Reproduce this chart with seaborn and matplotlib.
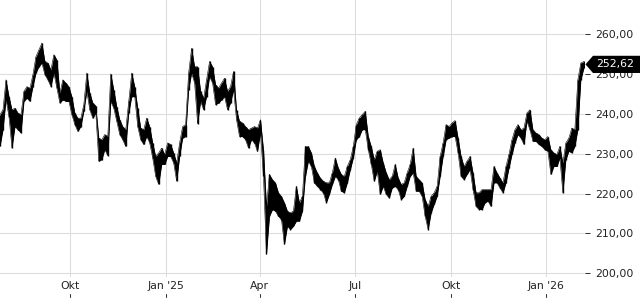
import numpy as np
import pandas as pd
import matplotlib
matplotlib.use("Agg")
import matplotlib.pyplot as plt
import matplotlib.transforms as mtransforms
from matplotlib.patches import Polygon
import seaborn as sns

sns.set_theme(style="white")
plt.rcParams["font.family"] = ["DejaVu Sans"]

# ---- data ----
highs = [
    239.8, 241.0, 248.5, 244.3, 241.0, 241.4, 240.2, 239.8, 245.6, 246.8, 246.4, 249.8, 254.3, 256.0, 257.7, 253.1,
    252.7, 251.0, 254.8, 253.5, 245.2, 248.5, 247.7, 246.8, 244.3, 240.2, 238.9, 238.9, 242.3, 250.2, 245.2, 242.7, 242.0,
    233.9, 233.5, 234.8, 234.3, 250.0, 246.0, 241.8, 238.5, 236.8, 236.0, 243.1, 250.2, 246.8, 241.4, 236.4, 236.0,
    238.9, 236.8, 232.7, 229.3, 230.2, 231.4, 229.8, 232.7, 232.3, 230.2, 227.7, 232.7, 236.8, 237.3, 250.2, 256.4, 251.8,
    251.8, 245.6, 243.9, 248.5, 253.1, 251.8, 247.3, 246.4, 247.7, 248.9, 245.6, 246.8, 250.6, 241.0, 238.1, 237.7,
    236.8, 236.0, 236.4, 236.8, 236.4, 238.5, 231.0, 216.8, 224.8, 223.5, 222.7, 220.2, 219.3, 217.7, 215.6, 215.2, 215.6,
    221.8, 217.7, 219.3, 231.8, 231.8, 230.2, 226.8, 225.2, 223.9, 223.1, 222.7, 222.7, 225.2, 228.9, 226.4, 224.8,
    224.3, 226.8, 228.5, 231.8, 237.3, 238.9, 239.8, 240.6, 234.3, 231.8, 228.5, 230.6, 231.0, 227.7, 225.2, 223.5,
    224.3, 227.3, 223.9, 222.3, 222.7, 225.2, 227.3, 231.4, 224.3, 223.5, 222.7, 218.5, 216.8, 219.3, 220.2, 221.8,
    229.3, 232.7, 237.3, 236.8, 237.7, 238.3, 233.9, 229.3, 226.8, 228.1, 229.3, 225.2, 220.2, 220.2, 221.0, 221.0, 221.0,
    221.0, 226.8, 225.2, 223.9, 222.7, 226.8, 229.8, 233.5, 236.0, 237.3, 236.0, 236.4, 240.2, 241.0, 236.0, 235.2,
    234.8, 233.9, 233.5, 234.3, 231.0, 230.2, 229.8, 231.8, 227.7, 232.7, 233.9, 236.4, 236.0, 248.5, 252.7, 253.1,
]
lows = [
    231.8, 236.0, 243.5, 239.3, 231.4, 236.8, 236.0, 235.2, 243.1, 243.9, 243.1, 246.8, 250.2, 251.8, 252.7, 249.8,
    248.5, 246.8, 250.2, 246.4, 242.7, 243.5, 243.1, 243.1, 239.8, 237.3, 235.6, 236.8, 240.6, 245.6, 241.0, 238.9, 240.2,
    228.1, 228.5, 231.0, 229.5, 243.1, 241.4, 238.1, 234.8, 233.5, 231.8, 240.2, 244.3, 244.3, 236.8, 233.5, 232.3,
    234.3, 232.7, 228.9, 224.3, 222.3, 227.3, 227.3, 229.3, 229.3, 227.7, 223.1, 229.3, 233.9, 234.3, 246.0, 250.2, 247.7,
    237.5, 243.1, 241.0, 244.3, 249.3, 247.7, 242.3, 242.7, 243.5, 244.3, 241.0, 242.7, 246.0, 238.5, 234.3, 234.3,
    233.5, 231.4, 233.5, 232.7, 230.6, 235.2, 224.3, 204.8, 214.3, 216.0, 215.6, 214.3, 213.5, 207.3, 211.8, 211.0, 211.8,
    213.1, 213.1, 215.6, 224.3, 228.1, 226.8, 222.7, 221.8, 221.0, 220.2, 217.7, 219.8, 222.3, 224.3, 223.5, 220.6,
    220.2, 222.7, 226.0, 228.9, 233.5, 234.3, 236.0, 236.0, 231.0, 227.3, 223.1, 225.6, 219.8, 221.8, 219.8, 218.9,
    221.4, 221.8, 221.0, 218.5, 219.3, 221.8, 224.3, 225.2, 220.6, 220.6, 219.3, 214.3, 211.0, 215.2, 217.3, 219.3,
    224.3, 229.3, 233.5, 233.9, 234.3, 234.3, 230.2, 224.3, 223.5, 224.8, 226.0, 221.0, 216.8, 216.0, 216.0, 217.7, 218.1,
    216.8, 222.7, 222.7, 221.4, 220.2, 222.7, 226.4, 229.8, 232.7, 234.8, 233.9, 232.3, 238.1, 236.0, 233.1, 233.1,
    232.3, 231.8, 231.0, 230.6, 224.8, 226.8, 226.8, 228.9, 220.2, 228.5, 230.6, 230.2, 231.8, 236.0, 248.5, 251.4,
]
start_date = "2024-07-25 12:00"
end_date = "2026-02-06 00:00"
last_close = 252.62
tick_dates = ["2024-10-01", "2025-01-01", "2025-04-01", "2025-07-01", "2025-10-01", "2026-01-01"]
tick_labels = ["Okt", "Jan '25", "Apr", "Jul", "Okt", "Jan '26"]
y_ticks = [200, 210, 220, 230, 240, 250, 260]

dates = pd.date_range(start_date, end_date, periods=len(highs))
df = pd.DataFrame({"date": dates, "high": highs, "low": lows})

W, H = 640, 300
fig = plt.figure(figsize=(W / 100, H / 100), dpi=100)
ax = fig.add_axes([0, 23 / H, 585 / W, 277 / H])

grid_c = "#dcdcdc"
ax.set_axisbelow(True)
ax.grid(True, color=grid_c, lw=0.75)

# price range band (low..high) with per-sample bars and thin outlines
ax.fill_between(df["date"], df["low"], df["high"], color="black", lw=0)
ax.vlines(df["date"], df["low"], df["high"], color="black", lw=1.0)
sns.lineplot(data=df, x="date", y="high", color="black", lw=0.4, ax=ax)
sns.lineplot(data=df, x="date", y="low", color="black", lw=0.4, ax=ax)

ax.set_xlim(pd.Timestamp("2024-07-25 12:00"), pd.Timestamp("2026-02-07 03:00"))
ax.set_ylim(199.1, 268.5)
for s in ax.spines.values():
    s.set_visible(False)
ax.set_xlabel("")
ax.set_ylabel("")

ax.yaxis.tick_right()
ax.set_yticks(y_ticks)
ax.set_yticklabels([f"{v:.2f}".replace(".", ",") for v in y_ticks])
ax.tick_params(axis="y", right=True, left=False, length=3.3, width=0.75, color="#333333",
               pad=4.3, labelsize=7.8, labelcolor="#222222")

tds = pd.to_datetime(tick_dates)
ax.set_xticks(tds)
ax.set_xticklabels(tick_labels)
ax.tick_params(axis="x", bottom=True, length=0, pad=2.9, labelsize=7.8, labelcolor="#222222")

# small tick marks under the x labels
btrans = mtransforms.blended_transform_factory(ax.transData, ax.transAxes)
for d in tds:
    ax.plot([d, d], [-0.061, -0.074], transform=btrans, clip_on=False, color="#333333", lw=0.75)

# last price tag
fig.canvas.draw()
yc = ax.transData.transform((0, last_close))[1] - 1.0
x_tip = 585.5
poly = Polygon([(x_tip, yc), (x_tip + 7.5, yc + 8.6), (W, yc + 8.6), (W, yc - 8.6), (x_tip + 7.5, yc - 8.6)],
               closed=True, facecolor="black", edgecolor="none", transform=mtransforms.IdentityTransform())
fig.add_artist(poly)
fig.text(596, yc, f"{last_close:.2f}".replace(".", ","), transform=mtransforms.IdentityTransform(),
         color="white", fontsize=7.8, ha="left", va="center")

fig.savefig("out.png", dpi=100)
